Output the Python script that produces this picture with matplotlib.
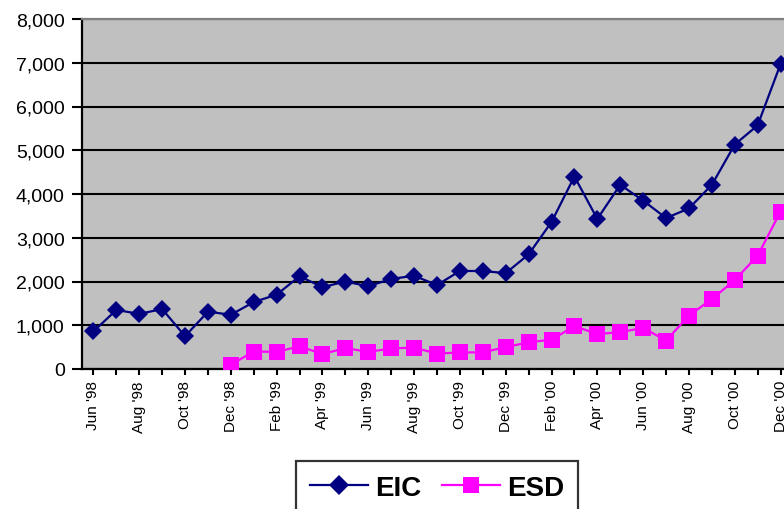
import numpy as np
import matplotlib
matplotlib.use("Agg")
import matplotlib.pyplot as plt
from matplotlib.ticker import FuncFormatter

# monthly counts, Jun '98 .. Dec '00
months = ["Jun '98", "Jul '98", "Aug '98", "Sep '98", "Oct '98", "Nov '98",
          "Dec '98", "Jan '99", "Feb '99", "Mar '99", "Apr '99", "May '99",
          "Jun '99", "Jul '99", "Aug '99", "Sep '99", "Oct '99", "Nov '99",
          "Dec '99", "Jan '00", "Feb '00", "Mar '00", "Apr '00", "May '00",
          "Jun '00", "Jul '00", "Aug '00", "Sep '00", "Oct '00", "Nov '00",
          "Dec '00"]
eic = [860, 1350, 1260, 1370, 750, 1310, 1240, 1530, 1700, 2120, 1870, 2000,
       1890, 2060, 2130, 1920, 2240, 2240, 2190, 2620, 3360, 4400, 3430, 4210,
       3850, 3450, 3670, 4210, 5130, 5570, 6970]
esd = [None] * 6 + [100, 400, 390, 520, 340, 480, 390, 470, 490, 350, 380,
                    380, 500, 610, 670, 980, 800, 840, 940, 650, 1220, 1600,
                    2030, 2590, 3600]

plt.rcParams["font.family"] = ["Liberation Sans", "DejaVu Sans"]

W, H = 784, 510
fig = plt.figure(figsize=(W / 100, H / 100), dpi=100)
# plot area runs past the right edge of the figure
ax = fig.add_axes([82 / W, 1 - 370 / H, 710 / W, 350 / H])
ax.set_facecolor("#C0C0C0")

x = np.arange(len(months))
esd_arr = np.array([np.nan if v is None else v for v in esd], dtype=float)

ax.plot(x, eic, color="#000080", lw=1.6, marker="D", markersize=9,
        markeredgewidth=0, label="EIC", zorder=3)
ax.plot(x, esd_arr, color="#FF00FF", lw=1.6, marker="s", markersize=11,
        markeredgewidth=0, label="ESD", zorder=3)

ax.set_xlim(-0.5, len(months) - 0.5)
ax.set_ylim(0, 8000)
ax.set_yticks(np.arange(0, 8001, 1000))
ax.yaxis.set_major_formatter(FuncFormatter(lambda v, p: f"{int(v):,}"))
ax.set_xticks(x)
ax.set_xticklabels([m if i % 2 == 0 else "" for i, m in enumerate(months)],
                   rotation=90, fontsize=11)
ax.tick_params(axis="y", labelsize=14, length=7, width=1.5, pad=5.5)
ax.tick_params(axis="x", length=4.5, width=1.5, pad=3.5)

ax.set_axisbelow(True)
ax.yaxis.grid(True, color="black", lw=1.5)

for side in ("left", "bottom"):
    ax.spines[side].set_linewidth(1.6)
    ax.spines[side].set_color("black")
ax.spines["top"].set_color("#808080")
ax.spines["top"].set_linewidth(1.6)
ax.spines["right"].set_visible(False)

leg = fig.legend(loc="upper center", bbox_to_anchor=(437 / W, 1 - 462 / H),
                 borderaxespad=0, ncol=2,
                 prop={"weight": "bold", "size": 20},
                 frameon=True, fancybox=False, handlelength=2.1,
                 handletextpad=0.25, columnspacing=0.75, borderpad=0.5,
                 markerscale=1.1)
leg.get_frame().set_edgecolor("black")
leg.get_frame().set_linewidth(1.6)

fig.savefig("out.png", dpi=100)
